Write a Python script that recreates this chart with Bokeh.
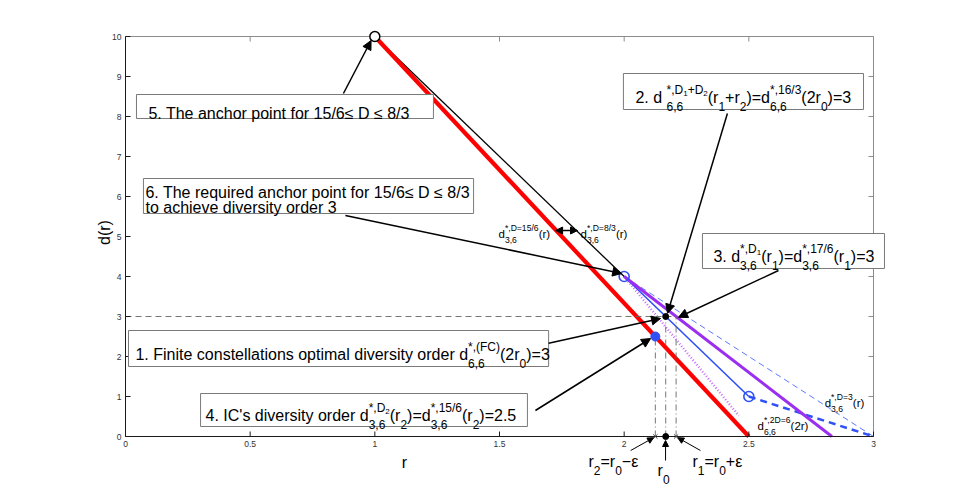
import numpy as np
from bokeh.plotting import figure
from bokeh.models import Label, Arrow, NormalHead, BoxAnnotation, Range1d
from bokeh.embed import file_html
from bokeh.resources import INLINE

# ---------------- data ----------------
x_ticks = [0, 0.5, 1, 1.5, 2, 2.5, 3]
x_tick_labels = ["0", "0.5", "1", "1.5", "2", "2.5", "3"]
y_ticks = [0, 1, 2, 3, 4, 5, 6, 7, 8, 9, 10]
y_tick_labels = ["0", "1", "2", "3", "4", "5", "6", "7", "8", "9", "10"]

red_r = [1.0, 2.5];        red_d = [10.0, 0.0]        # d_{3,6}^{D=15/6}
black_r = [1.0, 2.0];      black_d = [10.0, 4.0]      # d_{3,6}^{D=8/3}
blue_r = [2.0, 2.5];       blue_d = [4.0, 1.0]
bluedash_r = [2.5, 3.0];   bluedash_d = [1.0, 0.0]    # d_{6,6}^{2D=6}(2r)
purple_r = [2.0, 2.8333];  purple_d = [4.0, 0.0]      # D=17/6
thin_r = [2.0, 3.0];       thin_d = [4.0, 0.0]        # D=3
dotted_r = [2.0, 2.46];    dotted_d = [4.0, 0.52]

r2, r0, r1 = 2.125, 2.1667, 2.2083
h_r = [0.0, r1];           h_d = [3.0, 3.0]
v_r = [r2, r0, r1];        v_top = [2.5, 3.0, 3.0]

anchor_r = [1.0];          anchor_d = [10.0]
bluec_r = [2.0, 2.5];      bluec_d = [4.0, 1.0]
bluef_r = [r2];            bluef_d = [2.5]
dot_r = [r0, r0];          dot_d = [3.0, 0.0]
cross_r = [r2, r1];        cross_d = [0.0, 0.0]

FONT = "Liberation Sans"

# ---------------- layout: axes box at pixels x 125..873, y 36..436 ----------------
W, H = 952, 490
PX0, PXS = 125.0, 748.0 / 3.0
PY0, PYS = 436.0, 40.0

WID = {' ': 278, '!': 278, "'": 191, '(': 333, ')': 333, '*': 389, '+': 584, ',': 278,
       '-': 333, '.': 278, '/': 278, ':': 278, '=': 584, '≤': 549, '−': 584, 'ε': 480,
       'A': 667, 'B': 667, 'C': 722, 'D': 722, 'E': 667, 'F': 611, 'G': 778, 'H': 722,
       'I': 278, 'J': 500, 'K': 667, 'L': 556, 'M': 833, 'N': 722, 'O': 778, 'P': 667,
       'Q': 778, 'R': 722, 'S': 667, 'T': 611, 'U': 722, 'V': 667, 'W': 944, 'X': 667,
       'Y': 667, 'Z': 611, 'a': 556, 'b': 556, 'c': 500, 'd': 556, 'e': 556, 'f': 278,
       'g': 556, 'h': 556, 'i': 222, 'j': 222, 'k': 500, 'l': 222, 'm': 833, 'n': 556,
       'o': 556, 'p': 556, 'q': 556, 'r': 333, 's': 500, 't': 278, 'u': 556, 'v': 500,
       'w': 722, 'x': 500, 'y': 500, 'z': 500}


def tw(s, size):
    return sum(WID.get(c, 556) for c in s) / 1000.0 * size


p = figure(x_range=Range1d(-PX0 / PXS, (W - PX0) / PXS),
           y_range=Range1d((PY0 - H) / PYS, PY0 / PYS),
           frame_width=W, frame_height=H,
           min_border_left=0, min_border_right=0, min_border_top=0, min_border_bottom=0,
           x_axis_location=None, y_axis_location=None,
           output_backend="svg", toolbar_location=None)
p.grid.visible = False
p.outline_line_color = None
p.background_fill_color = "white"
p.border_fill_color = "white"


def put(x, y, text, size, dx, dy, color="black", align="left", baseline="alphabetic", angle=0.0):
    p.add_layout(Label(x=x, y=y, x_offset=dx, y_offset=dy, text=text, text_font=FONT,
                       text_font_size=f"{size:.1f}px", text_color=color, angle=angle,
                       text_baseline=baseline, text_align=align))


def rich(x, y, segs, size):
    cx = 0.0
    ss = 0.75 * size
    sss = 0.5 * size
    for seg in segs:
        if isinstance(seg, str):
            put(x, y, seg, size, cx, 0)
            cx += tw(seg, size)
        else:
            sup, sub = seg
            w1 = 0.0
            for t in sup:
                if t.startswith("_"):
                    t = t[1:]
                    put(x, y, t, sss, cx + w1, 0.28 * size)
                    w1 += tw(t, sss)
                else:
                    put(x, y, t, ss, cx + w1, 0.48 * size)
                    w1 += tw(t, ss)
            w2 = 0.0
            for t in sub:
                put(x, y, t, ss, cx + w2, -0.56 * size)
                w2 += tw(t, ss)
            cx += max(w1, w2)
    return cx


# ---------------- axes box (MATLAB style) ----------------
xa, xb = x_ticks[0], x_ticks[-1]
ya, yb = y_ticks[0], y_ticks[-1]
p.line([xa, xb], [yb, yb], line_color="#8c8c8c", line_width=1)
p.line([xb, xb], [ya, yb], line_color="#8c8c8c", line_width=1)
p.ray(x=x_ticks, y=[yb] * len(x_ticks), length=5, length_units="screen",
      angle=-np.pi / 2, line_color="#8c8c8c", line_width=1)
p.ray(x=[xb] * len(y_ticks), y=y_ticks, length=5, length_units="screen",
      angle=np.pi, line_color="#8c8c8c", line_width=1)

# ---------------- curves ----------------
p.line(dotted_r, dotted_d, line_color="#c36bff", line_width=2.4, line_dash="1 2")
p.line(thin_r, thin_d, line_color="#3355ff", line_width=0.8, line_dash="6 4")
p.line(black_r, black_d, line_color="black", line_width=1.3)
p.line(blue_r, blue_d, line_color="#2f50f5", line_width=1.6)
p.line(bluedash_r, bluedash_d, line_color="#2f50f5", line_width=2.5, line_dash="7 5")
p.line(purple_r, purple_d, line_color="#9b2ff0", line_width=3)
p.line(red_r, red_d, line_color="#ff0000", line_width=4.2)

p.line(h_r, h_d, line_color="#666666", line_width=0.9, line_dash="6 4")
p.segment(x0=v_r, y0=[0, 0, 0], x1=v_r, y1=v_top, line_color="#666666",
          line_width=0.9, line_dash="6 3 1 3")

# left / bottom axes on top of curves
p.line([xa, xb], [ya, ya], line_color="#1a1a1a", line_width=1)
p.line([xa, xa], [ya, yb], line_color="#1a1a1a", line_width=1)
p.ray(x=x_ticks, y=[ya] * len(x_ticks), length=5, length_units="screen",
      angle=np.pi / 2, line_color="#1a1a1a", line_width=1)
p.ray(x=[xa] * len(y_ticks), y=y_ticks, length=5, length_units="screen",
      angle=0.0, line_color="#1a1a1a", line_width=1)
for t, lab in zip(x_ticks, x_tick_labels):
    put(t, ya, lab, 8.5, 0, -4, color="#333333", align="center", baseline="top")
for t, lab in zip(y_ticks, y_tick_labels):
    put(xa, t, lab, 8.5, -4, 0, color="#333333", align="right", baseline="middle")

p.scatter(anchor_r, anchor_d, marker="circle", size=10, fill_color="white",
          line_color="black", line_width=1.5)
p.scatter(bluec_r, bluec_d, marker="circle", size=10, fill_color=None,
          line_color="#2f50f5", line_width=1.6)
p.scatter(bluef_r, bluef_d, marker="circle", size=9, fill_color="#2f50f5",
          line_color="#2f50f5")
p.scatter(dot_r, dot_d, marker="circle", size=6, fill_color="black", line_color="black")
p.scatter(cross_r, cross_d, marker="x", size=6, line_color="#444444", line_width=1)

put(1.119, -0.66, "r", 16, 0, 0, align="center")
put(-0.084, 5.1, "d(r)", 16, 0, 0, align="center", baseline="middle", angle=np.pi / 2)


# ---------------- annotations ----------------
def box(l, r, t, b):
    p.add_layout(BoxAnnotation(left=l, right=r, top=t, bottom=b, fill_color="white",
                               fill_alpha=1.0, line_color="#7a7a7a", line_width=1,
                               line_alpha=1.0))


def arrow(xs, ys, xe, ye, size=9, width=1.5, both=False):
    kw = {}
    if both:
        kw["start"] = NormalHead(size=size, fill_color="black", line_color="black")
    p.add_layout(Arrow(end=NormalHead(size=size, fill_color="black", line_color="black"),
                       x_start=xs, y_start=ys, x_end=xe, y_end=ye,
                       line_color="black", line_width=width, **kw))


S = 16
# 5
box(0.044, 1.235, 8.55, 7.95)
put(0.092, 8.08, "5. The anchor point for 15/6≤ D ≤ 8/3", S, 0, 0)
arrow(0.874, 8.575, 0.985, 9.9)

# 6
box(0.072, 1.396, 6.45, 5.575)
put(0.08, 6.1, "6. The required anchor point for 15/6≤ D ≤ 8/3", S, 0, 0)
put(0.08, 5.725, "to achieve diversity order 3", S, 0, 0)
arrow(0.882, 5.525, 1.99, 4.075)

# 1
box(0.012, 1.697, 2.65, 1.75)
rich(0.04, 2.05, ["1. Finite constellations optimal diversity order d",
                  (["*,(FC)"], ["6,6"]), "(2r", ([], ["0"]), ")=3"], S)
arrow(1.697, 2.33, 2.146, 2.95)

# 4
box(0.301, 1.612, 1.075, 0.25)
rich(0.321, 0.525, ["4. IC's diversity order d", (["*,D", "_2"], ["3,6"]), "(r", ([], ["2"]),
                    ")=d", (["*,15/6"], ["3,6"]), "(r", ([], ["2"]), ")=2.5"], S)
arrow(1.644, 0.65, 2.106, 2.45)

# 2
box(1.997, 2.96, 9.075, 8.175)
rich(2.045, 8.475, ["2.  d", (["*,D", "_1", "+D", "_2"], ["6,6"]), "(r", ([], ["1"]), "+r",
                    ([], ["2"]), ")=d", (["*,16/3"], ["6,6"]), "(2r", ([], ["0"]), ")=3"], S)
arrow(2.414, 8.075, 2.174, 3.08)

# 3
box(2.314, 3.044, 5.075, 4.2)
rich(2.358, 4.5, ["3. d", (["*,D", "_1"], ["3,6"]), "(r", ([], ["1"]), ")=d",
                  (["*,17/6"], ["3,6"]), "(r", ([], ["1"]), ")=3"], S)
arrow(2.619, 4.15, 2.218, 2.98)
p.line([xb, xb], [4.2, 5.075], line_color="#8c8c8c", line_width=1)

# small curve labels
s = 11.5
rich(1.496, 5.075, ["d", (["*,D=15/6"], ["3,6"]), "(r)"], s)
rich(1.825, 5.075, ["d", (["*,D=8/3"], ["3,6"]), "(r)"], s)
arrow(1.725, 5.15, 1.813, 5.15, size=7, width=1.5, both=True)
rich(2.804, 0.85, ["d", (["*,D=3"], ["3,6"]), "(r)"], s)
rich(2.535, 0.275, ["d", (["*,2D=6"], ["6,6"]), "(2r)"], s)

# r labels below the axis
rich(1.857, -0.625, ["r", ([], ["2"]), "=r", ([], ["0"]), "−ε"], S)
rich(2.134, -0.84, ["r", ([], ["0"])], S)
rich(2.274, -0.625, ["r", ([], ["1"]), "=r", ([], ["0"]), "+ε"], S)
arrow(2.026, -0.35, 2.118, -0.03, size=6, width=1)
arrow(2.166, -0.6, 2.166, -0.1, size=6, width=1)
arrow(2.306, -0.35, 2.215, -0.03, size=6, width=1)

open("out.html", "w").write(file_html(p, INLINE))
